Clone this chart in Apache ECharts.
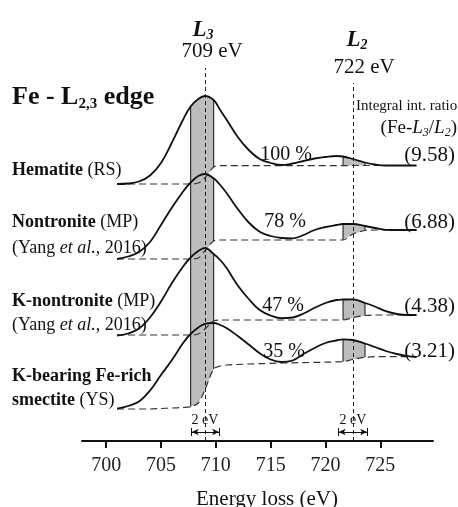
<!DOCTYPE html>
<html>
<head>
<meta charset="utf-8">
<script src="https://cdn.jsdelivr.net/npm/echarts@6/dist/echarts.min.js"></script>
<style>
  html, body { margin: 0; padding: 0; background: #fff; }
  #feEdgeChart { width: 458px; height: 507px; }
</style>
</head>
<body>
<div id="feEdgeChart"></div>
<script>
  // energy loss grid (eV), shared by every spectrum
  var energy = [701.0, 702.0, 703.0, 704.0, 705.0, 706.0, 707.0, 707.7, 708.4, 709.0, 709.8, 710.4, 711.0, 712.0, 713.0,
    714.0, 715.0, 716.0, 717.0, 718.0, 719.0, 720.0, 721.0, 721.6, 722.5, 723.6, 724.5, 725.5, 726.5, 727.5, 728.3]

  // intensities (a.u., already offset like in the figure) + their step baselines
  var hematite = [257, 257.5, 259.5, 265.5, 278, 298.5, 321, 334.5, 342, 345, 341, 331, 321, 304, 291,
    282, 278, 276, 277.5, 280, 282.5, 284, 285, 284.5, 282, 278.5, 276.5, 275.5, 275.5, 275.5, 275.5]
  var hematiteBase = [257, 257, 257, 257, 257, 257, 257, 257, 258, 263, 274, 275.3, 275.3, 275.3, 275.3,
    275.3, 275.3, 275.3, 275.3, 275.3, 275.3, 275.3, 275.3, 275.3, 275.5, 275.5, 275.5, 275.5, 275.5, 275.5, 275.5]

  var nontronite = [182, 184.5, 189, 199, 216, 233.5, 249.3, 258.5, 265, 267, 262.7, 256, 247.7, 232, 218.5,
    209.3, 205, 203, 202.7, 206, 211, 214, 216, 217, 217, 215, 213, 211.2, 211, 211, 211]
  var nontroniteBase = [182, 182, 182, 182, 182, 182, 182, 182, 183, 190, 200, 201, 201, 201, 201,
    201, 201, 201, 201, 201, 201, 201, 201, 201, 207, 210.5, 211, 211, 211, 211, 211]

  var kNontronite = [105.5, 107.5, 112.5, 123.5, 139.5, 158, 174.3, 183.5, 190, 193, 187, 181, 172.7, 155.5, 142,
    131, 125.5, 122.8, 123.5, 127.5, 133.2, 138, 141, 141.5, 141.7, 138, 134.5, 129.8, 127, 126, 126]
  var kNontroniteBase = [106, 106, 106, 106, 106, 106, 106, 106, 107, 112, 120, 121, 121, 121, 121,
    121, 121, 121, 121, 121, 121, 121, 121, 121, 123.5, 125.5, 126, 126, 126, 126, 126]

  var kBearing = [32.3, 35, 39.5, 50.5, 66, 81, 97.7, 107, 113.5, 117.2, 118, 116, 112.7, 105, 96.5,
    87.7, 81.5, 79, 80.5, 87, 93, 98, 100.5, 101.7, 101, 97.5, 94, 90, 87, 84.8, 84]
  var kBearingBase = [32, 32, 32, 32, 32.5, 33, 33.5, 34.3, 38, 51, 72, 75, 76, 76.5, 77,
    77.3, 77.6, 78, 78.2, 78.4, 78.6, 78.8, 79.1, 79.3, 81.7, 83.7, 84.3, 84.3, 84.3, 84.3, 84.3]

  var tickValues = [700, 705, 710, 715, 720, 725]
  var edgeEnergy = [709, 722.5]            // dashed L3 / L2 markers
  var bandL3 = [707.7, 709.8]              // 2 eV integration windows
  var bandL2 = [721.6, 723.6]
  var arrowL3 = [707.8, 710.3]
  var arrowL2 = [721.2, 723.8]
  var percentLabels = ['100 %', '78 %', '47 %', '35 %']
  var ratioLabels = ['(9.58)', '(6.88)', '(4.38)', '(3.21)']

  var spectra = [hematite, nontronite, kNontronite, kBearing]
  var baselines = [hematiteBase, nontroniteBase, kNontroniteBase, kBearingBase]

  var serif = '"Liberation Serif", "DejaVu Serif", serif'
  var ink = '#111'

  function pairs(values) {
    return energy.map(function (e, i) { return [e, values[i]] })
  }

  // grey area between spectrum and its baseline inside a window
  var bandItems = []
  spectra.forEach(function (s, k) {
    bandItems.push([bandL3[0], bandL3[1], k])
    bandItems.push([bandL2[0], bandL2[1], k])
  })

  function renderBand(params, api) {
    var b = bandItems[params.dataIndex]
    var curve = spectra[b[2]], base = baselines[b[2]]
    var top = [], bottom = []
    energy.forEach(function (e, i) {
      if (e >= b[0] - 1e-6 && e <= b[1] + 1e-6) {
        top.push(api.coord([e, curve[i]]))
        bottom.unshift(api.coord([e, base[i]]))
      }
    })
    var edge = { stroke: '#333', lineWidth: 1.2 }
    return {
      type: 'group',
      children: [
        { type: 'polygon', shape: { points: top.concat(bottom) }, style: { fill: '#bdbdbd' } },
        { type: 'line', shape: { x1: top[0][0], y1: top[0][1], x2: bottom[bottom.length - 1][0], y2: bottom[bottom.length - 1][1] }, style: edge },
        { type: 'line', shape: { x1: top[top.length - 1][0], y1: top[top.length - 1][1], x2: bottom[0][0], y2: bottom[0][1] }, style: edge }
      ]
    }
  }

  var series = [{
    type: 'custom',
    coordinateSystem: 'cartesian2d',
    renderItem: renderBand,
    data: bandItems,
    encode: { x: [0, 1], y: 2 },
    clip: false,
    silent: true,
    z: 1
  }]

  spectra.forEach(function (s, k) {
    series.push({
      type: 'line',
      data: pairs(baselines[k]),
      showSymbol: false,
      smooth: 0.3,
      lineStyle: { color: '#333', width: 1.2, type: [7, 4] },
      silent: true,
      z: 2
    })
    series.push({
      type: 'line',
      data: pairs(s),
      showSymbol: false,
      smooth: 0.4,
      lineStyle: { color: ink, width: 1.8 },
      silent: true,
      z: 3
    })
  })

  // vertical dashed edge markers
  series[2].markLine = {
    silent: true, symbol: 'none', label: { show: false },
    lineStyle: { color: '#222', type: [4, 3], width: 1 },
    data: [
      [{ coord: [edgeEnergy[0], 0] }, { coord: [edgeEnergy[0], 373] }],
      [{ coord: [edgeEnergy[1], 0] }, { coord: [edgeEnergy[1], 358] }]
    ]
  }
  // 2 eV arrows
  series[4].markLine = {
    silent: true, symbol: ['arrow', 'arrow'], symbolSize: [5, 7], label: { show: false },
    lineStyle: { color: ink, type: 'solid', width: 1 },
    data: [
      [{ coord: [arrowL3[0], 9] }, { coord: [arrowL3[1], 9] }],
      [{ coord: [arrowL2[0], 9] }, { coord: [arrowL2[1], 9] }]
    ]
  }
  series[6].markLine = {
    silent: true, symbol: 'none', label: { show: false },
    lineStyle: { color: ink, type: 'solid', width: 1 },
    data: arrowL3.concat(arrowL2).map(function (e) {
      return [{ coord: [e, 5] }, { coord: [e, 13] }]
    })
  }

  function txt(x, y, text, size, align, rich, extra) {
    var style = {
      text: text, x: 0, y: 0, fill: ink, fontFamily: serif, fontSize: size,
      align: align || 'center', verticalAlign: 'middle'
    }
    if (rich) style.rich = rich
    if (extra) Object.assign(style, extra)
    return { type: 'text', x: x, y: y, silent: true, style: style }
  }

  var subRich = function (size, subSize, lh, weight, fstyle) {
    return {
      m: { fontFamily: serif, fontSize: size, fontWeight: weight, fontStyle: fstyle, fill: ink, lineHeight: lh, verticalAlign: 'middle' },
      s: { fontFamily: serif, fontSize: subSize, fontWeight: weight, fontStyle: fstyle, fill: ink, lineHeight: 8, verticalAlign: 'bottom' }
    }
  }

  var labelRich = {
    b: { fontFamily: serif, fontSize: 18, fontWeight: 'bold', fill: ink },
    n: { fontFamily: serif, fontSize: 18, fill: ink },
    i: { fontFamily: serif, fontSize: 18, fontStyle: 'italic', fill: ink }
  }

  var ratioRich = {
    n: { fontFamily: serif, fontSize: 19, fill: ink, lineHeight: 22, verticalAlign: 'middle' },
    i: { fontFamily: serif, fontSize: 19, fontStyle: 'italic', fill: ink, lineHeight: 22, verticalAlign: 'middle' },
    s: { fontFamily: serif, fontSize: 12, fontStyle: 'italic', fill: ink, lineHeight: 6, verticalAlign: 'bottom' }
  }

  var percentY = [155, 222, 306, 351.5]
  var percentX = [286, 285, 283, 284]
  var ratioY = [155, 222, 306.5, 351]

  var graphic = [
    txt(203, 30, '{m|L}{s|3}', 23, 'center', subRich(23, 14, 24, 'bold', 'italic')),
    txt(212, 51, '709 eV', 21),
    txt(357, 40, '{m|L}{s|2}', 23, 'center', subRich(23, 14, 24, 'bold', 'italic')),
    txt(364, 67.5, '722 eV', 21),
    txt(12, 97.5, '{m|Fe - L}{s|2,3}{m| edge}', 26, 'left', subRich(26, 15, 28, 'bold', 'normal')),
    txt(356, 106, 'Integral int. ratio', 15, 'left'),
    txt(457, 128, '{n|(Fe-}{i|L}{s|3}{n|/}{i|L}{s|2}{n|)}', 19, 'right', ratioRich),
    txt(12, 170, '{b|Hematite}{n| (RS)}', 18, 'left', labelRich),
    txt(12, 222.5, '{b|Nontronite}{n| (MP)}', 18, 'left', labelRich),
    txt(12, 248.5, '{n|(Yang }{i|et al.}{n|, 2016)}', 18, 'left', labelRich),
    txt(12, 301.7, '{b|K-nontronite}{n| (MP)}', 18, 'left', labelRich),
    txt(12, 325, '{n|(Yang }{i|et al.}{n|, 2016)}', 18, 'left', labelRich),
    txt(12, 376.7, '{b|K-bearing Fe-rich}', 18, 'left', labelRich),
    txt(12, 400, '{b|smectite}{n| (YS)}', 18, 'left', labelRich),
    txt(205, 420, '2 eV', 14),
    txt(353, 420, '2 eV', 14),
    txt(267, 499, 'Energy loss (eV)', 21)
  ]
  percentLabels.forEach(function (p, k) { graphic.push(txt(percentX[k], percentY[k], p, 20)) })
  ratioLabels.forEach(function (r, k) { graphic.push(txt(455, ratioY[k], r, 21, 'right')) })

  var chart = echarts.init(document.getElementById('feEdgeChart'))
  chart.setOption({
    animation: false,
    backgroundColor: '#fff',
    grid: { left: 82, right: 25, top: 41, bottom: 66 },
    xAxis: {
      type: 'value',
      min: 697.8,
      max: 729.8,
      axisLine: { onZero: false, lineStyle: { color: ink, width: 2 } },
      axisTick: { customValues: tickValues, length: 7, lineStyle: { color: ink, width: 2 } },
      axisLabel: { customValues: tickValues, margin: 15, fontSize: 20, fontFamily: serif, color: '#222' },
      splitLine: { show: false }
    },
    yAxis: { type: 'value', min: 0, max: 400, show: false },
    series: series,
    graphic: graphic
  })
</script>
</body>
</html>
